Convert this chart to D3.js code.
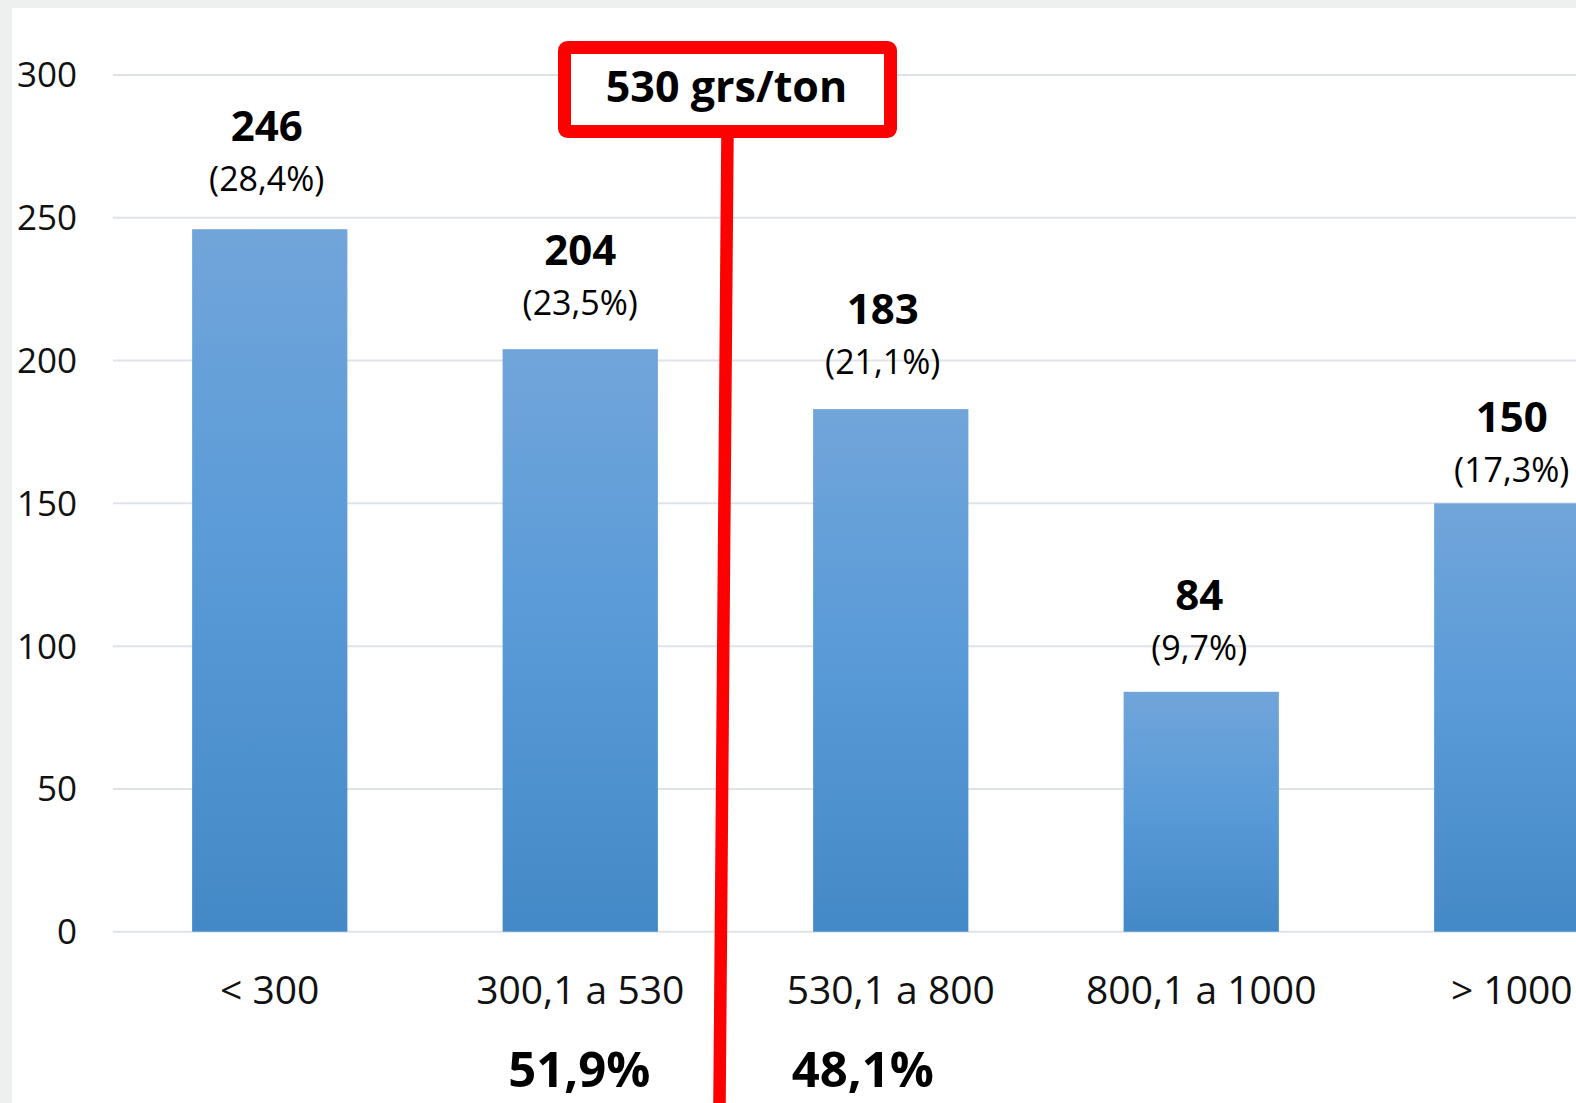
<!DOCTYPE html>
<html>
<head>
<meta charset="utf-8">
<script src="https://cdn.jsdelivr.net/npm/d3@7"></script>
<style>
  html, body { margin: 0; padding: 0; background: #fff; overflow: hidden; }
  svg { display: block; font-family: "Open Sans", sans-serif; }
</style>
</head>
<body>
<svg></svg>
<script>
var width = 1576,
    height = 1103;

// data
var categories = ["< 300", "300,1 a 530", "530,1 a 800", "800,1 a 1000", "> 1000"];
var counts = [246, 204, 183, 84, 150];
var shares = ["(28,4%)", "(23,5%)", "(21,1%)", "(9,7%)", "(17,3%)"];
var yTicks = [0, 50, 100, 150, 200, 250, 300];
var thresholdLabel = "530 grs/ton";
var splitShares = ["51,9%", "48,1%"];

// small hand placed nudges of the labels above the bars (layout only)
var labelLift = [4, 0, 1, -2, -13];
var labelShift = [-3, 0, -8, -2, 0];

var svg = d3.select("svg")
    .attr("width", width)
    .attr("height", height);

var x = d3.scaleBand()
    .domain(categories)
    .range([114.5, 114.5 + 5 * 310.5])
    .paddingInner(0.5)
    .paddingOuter(0.25);

var y = d3.scaleLinear()
    .domain([0, 300])
    .range([931.7, 75]);

var defs = svg.append("defs");
var grad = defs.append("linearGradient")
    .attr("id", "barFill")
    .attr("x1", 0).attr("y1", 0)
    .attr("x2", 0).attr("y2", 1);
grad.append("stop").attr("offset", "0%").attr("stop-color", "#71a5da");
grad.append("stop").attr("offset", "45%").attr("stop-color", "#5a9bd8");
grad.append("stop").attr("offset", "100%").attr("stop-color", "#4489c7");

// screenshot frame
svg.append("rect")
    .attr("x", 0).attr("y", 0)
    .attr("width", width).attr("height", 8)
    .attr("fill", "#eef0ef");
svg.append("rect")
    .attr("x", 0).attr("y", 0)
    .attr("width", 12).attr("height", height)
    .attr("fill", "#eef0ef");

// gridlines
svg.append("g")
    .attr("class", "grid")
    .selectAll("line")
    .data(yTicks)
    .enter()
    .append("line")
    .attr("x1", 113)
    .attr("x2", width)
    .attr("y1", function (d) { return y(d); })
    .attr("y2", function (d) { return y(d); })
    .attr("stroke", "#dfe3e9")
    .attr("stroke-width", 2);

// y axis labels
var yAxis = d3.axisLeft(y)
    .tickValues(yTicks)
    .tickSize(0)
    .tickPadding(0);

svg.append("g")
    .attr("transform", "translate(77,0)")
    .call(yAxis)
    .call(function (g) { g.select(".domain").remove(); })
    .selectAll("text")
    .attr("font-family", "Open Sans, sans-serif")
    .attr("font-size", 35)
    .attr("fill", "#111")
    .attr("dy", "0.34em");

// bars
svg.append("g")
    .selectAll("rect")
    .data(counts)
    .enter()
    .append("rect")
    .attr("x", function (d, i) { return x(categories[i]); })
    .attr("y", function (d) { return y(d); })
    .attr("width", x.bandwidth())
    .attr("height", function (d) { return y(0) - y(d); })
    .attr("fill", "url(#barFill)");

// value labels
var labels = svg.append("g")
    .attr("text-anchor", "middle")
    .attr("fill", "#000");

labels.selectAll(".val")
    .data(counts)
    .enter()
    .append("text")
    .attr("class", "val")
    .attr("x", function (d, i) { return x(categories[i]) + x.bandwidth() / 2 + labelShift[i]; })
    .attr("y", function (d, i) { return y(d) - 84 - labelLift[i]; })
    .attr("font-size", 42)
    .attr("font-weight", "bold")
    .text(function (d) { return d; });

labels.selectAll(".pct")
    .data(shares)
    .enter()
    .append("text")
    .attr("class", "pct")
    .attr("x", function (d, i) { return x(categories[i]) + x.bandwidth() / 2 + labelShift[i]; })
    .attr("y", function (d, i) { return y(counts[i]) - 34 - labelLift[i]; })
    .attr("font-size", 34)
    .text(function (d) { return d; });

// category labels
var xAxis = d3.axisBottom(x)
    .tickSize(0)
    .tickPadding(0);

svg.append("g")
    .attr("transform", "translate(0," + y(0) + ")")
    .call(xAxis)
    .call(function (g) { g.select(".domain").remove(); })
    .selectAll("text")
    .attr("font-family", "Open Sans, sans-serif")
    .attr("font-size", 39)
    .attr("fill", "#111")
    .attr("dy", null)
    .attr("y", 72);

// 530 grs/ton threshold marker
var split = x(categories[2]) - x.step() * x.paddingInner() / 2;

svg.append("line")
    .attr("x1", split - 8)
    .attr("y1", 132)
    .attr("x2", split - 16)
    .attr("y2", height)
    .attr("stroke", "#ff0000")
    .attr("stroke-width", 12.5);

svg.append("rect")
    .attr("x", split - 171)
    .attr("y", 47.5)
    .attr("width", 326)
    .attr("height", 84)
    .attr("rx", 3)
    .attr("fill", "#fff")
    .attr("stroke", "#ff0000")
    .attr("stroke-width", 13);

svg.append("text")
    .attr("x", split - 9)
    .attr("y", 102)
    .attr("text-anchor", "middle")
    .attr("font-size", 43)
    .attr("font-weight", "bold")
    .attr("fill", "#000")
    .text(thresholdLabel);

// share on each side of the threshold
svg.append("g")
    .attr("text-anchor", "middle")
    .selectAll("text")
    .data(splitShares)
    .enter()
    .append("text")
    .attr("x", function (d, i) { return x(categories[i + 1]) + x.bandwidth() / 2 - (i === 0 ? 1 : 28); })
    .attr("y", 1087)
    .attr("font-size", 49)
    .attr("font-weight", "bold")
    .attr("fill", "#000")
    .text(function (d) { return d; });
</script>
</body>
</html>
